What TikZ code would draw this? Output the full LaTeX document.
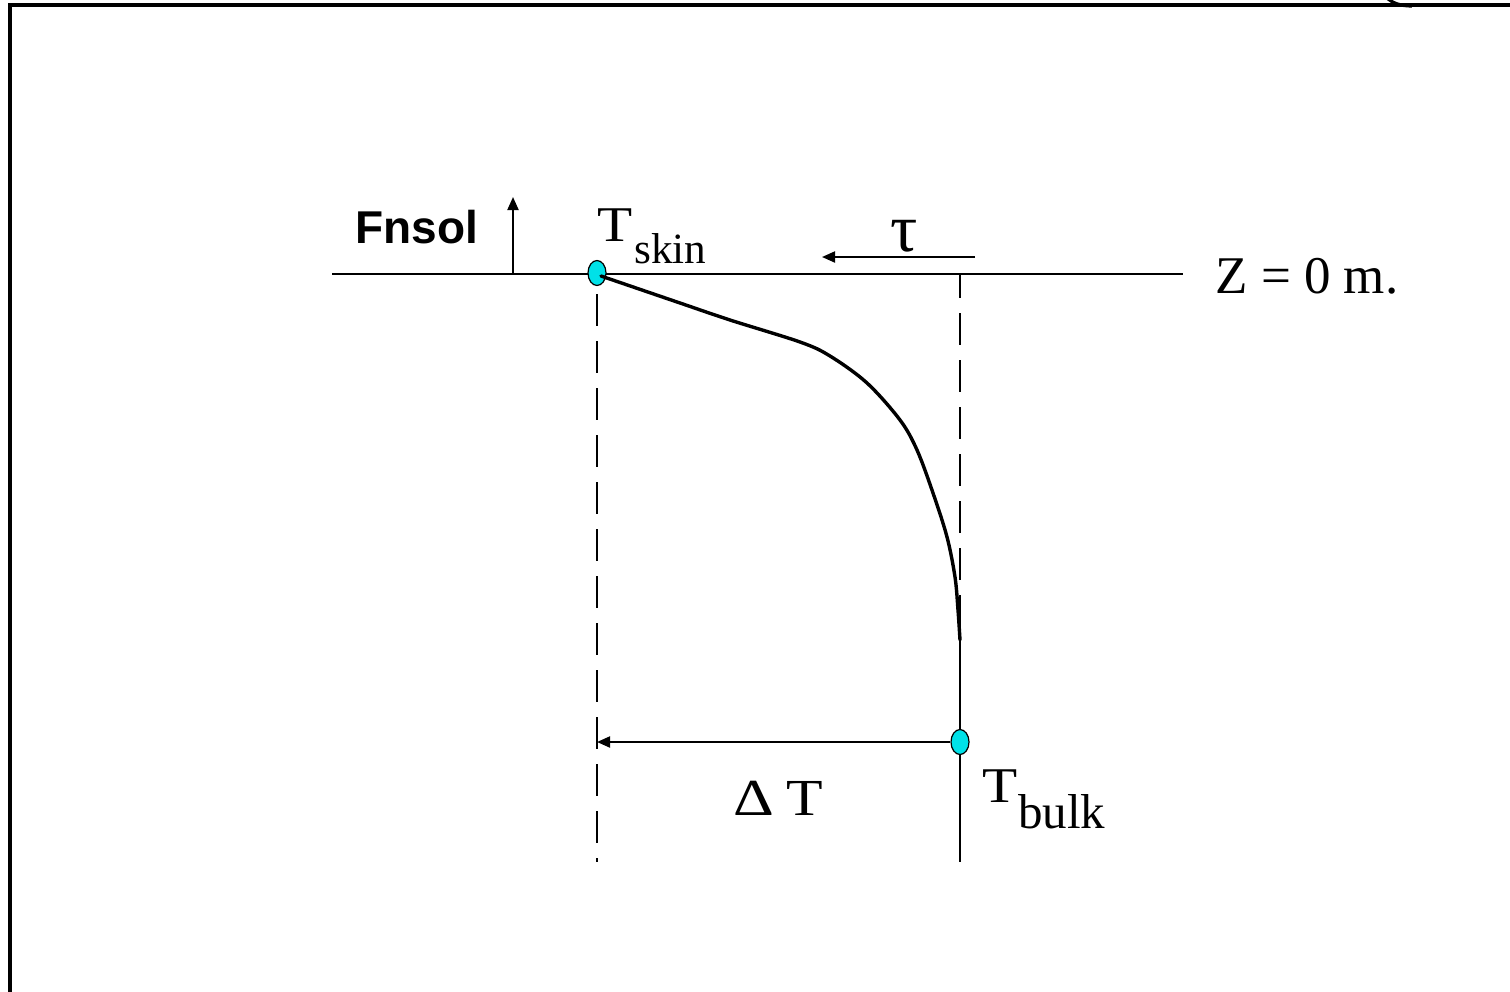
\documentclass[tikz,border=0pt]{standalone}
\usepackage{fontspec}
\setmainfont{Liberation Serif}
\newfontfamily\arialbold{Liberation Sans}
\usetikzlibrary{arrows.meta,shapes.geometric}
\definecolor{dotcyan}{RGB}{0,225,232}
\tikzset{
  thinline/.style={line width=1pt},
  dashline/.style={line width=1pt, dash pattern=on 16pt off 7.5pt},
  curveline/.style={line width=1.7pt, line cap=round, line join=round},
  framebox/.style={line width=1.6pt},
  tipline/.style={line width=1pt, -{Triangle[length=6.5pt,width=5.5pt]}},
  dotnode/.style={ellipse, draw=black, line width=0.6pt, fill=dotcyan, minimum width=9pt, minimum height=12.5pt, inner sep=0pt},
  lbl/.style={inner sep=0pt, font=\fontsize{25}{29}\selectfont},
}
\newcommand{\wide}[1]{\scalebox{1.15}[1]{#1}}
\begin{document}
\begin{tikzpicture}[x=0.5pt,y=-0.5pt]
\useasboundingbox (0,0) rectangle (1510,991);
\fill[white] (0,0) rectangle (1510,991);
% frame
\draw[framebox] (10,1000) -- (10,5) -- (1520,5);
\draw[framebox] (1386,-3) .. controls (1392,3) and (1400,6) .. (1412,6);
% coordinates
\coordinate (zl) at (332,274);
\coordinate (zr) at (1183,274);
\coordinate (fb) at (513,274);
\coordinate (ft) at (513,197);
\coordinate (ts) at (975,257);
\coordinate (te) at (822,257);
\coordinate (rt) at (960,274);
\coordinate (rm) at (960,640);
\coordinate (rb) at (960,862);
\coordinate (lb) at (597,862);
\coordinate (dl) at (597,742);
% surface line
\draw[thinline] (zl) -- (zr);
\node[lbl, anchor=base west, font=\fontsize{26.5}{30}\selectfont] (z0) at (1215,293) {Z = 0 m.};
% dots
\node[dotnode] (skin) at (597,273) {};
\node[dotnode] (bulk) at (960,742) {};
% verticals
\draw[dashline, dash phase=-4pt] (skin.south) -- (lb);
\draw[dashline, dash phase=4pt] (rt) -- (rm);
\draw[thinline] (rm) -- (bulk.north);
\draw[thinline] (bulk.south) -- (rb);
% profile curve
\draw[curveline] plot[smooth, tension=0.55] coordinates {(601,276) (680,303) (730,320) (800,342) (830,356) (867,383) (900,420) (917,450) (933,493) (947,537) (955,577) (958,610) (960,640)};
% arrows
\draw[tipline] (fb) -- (ft);
\draw[tipline] (ts) -- (te);
\draw[tipline] (bulk.west) -- (dl);
% labels
\node[lbl, anchor=base west, font=\arialbold\bfseries\fontsize{23}{27}\selectfont] (fn) at (355,243) {Fnsol};
\node[lbl, anchor=base, font=\fontsize{34}{38}\selectfont] (tau) at (904,251) {τ};
\node[lbl, anchor=base west] (tsT) at (597,241) {\wide{T}};
\node[lbl, anchor=base west, font=\fontsize{21.6}{26}\selectfont] (tsS) at ([xshift=0.5pt,yshift=-11pt]tsT.base east) {skin};
\node[lbl, anchor=base west] (tbT) at (982,802) {\wide{T}};
\node[lbl, anchor=base west, font=\fontsize{24.5}{29}\selectfont] (tbS) at ([xshift=0pt,yshift=-13pt]tbT.base east) {bulk};
\node[lbl, anchor=base west, font=\fontsize{26}{30}\selectfont] (dT) at (733,815) {\scalebox{1.22}[1]{Δ}\hspace{6pt}\wide{T}};
\end{tikzpicture}
\end{document}
